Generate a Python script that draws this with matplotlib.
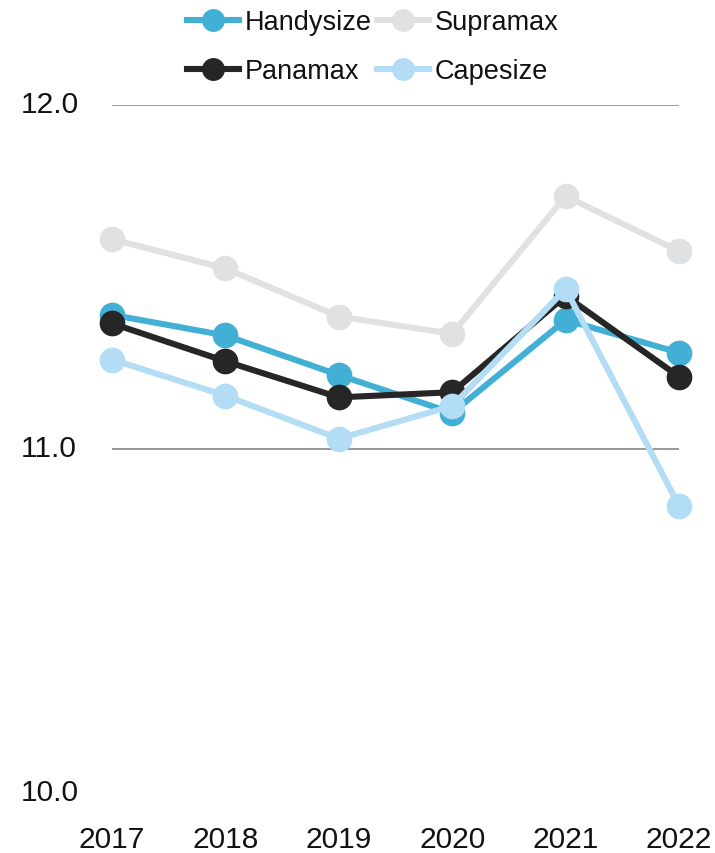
import matplotlib
matplotlib.use("Agg")
import matplotlib.pyplot as plt
from matplotlib.lines import Line2D
from matplotlib.transforms import ScaledTranslation

# data
years = [2017, 2018, 2019, 2020, 2021, 2022]
handysize = [11.39, 11.33, 11.215, 11.105, 11.375, 11.28]
supramax = [11.61, 11.525, 11.385, 11.335, 11.735, 11.575]
panamax = [11.365, 11.255, 11.15, 11.165, 11.445, 11.21]
capesize = [11.26, 11.155, 11.03, 11.125, 11.465, 10.835]

series_names = ['Handysize', 'Supramax', 'Panamax', 'Capesize']
series_vals = [handysize, supramax, panamax, capesize]
colors = ['#42b0d5', '#e0e1e3', '#262626', '#b3ddf5']

yticks = [10.0, 11.0, 12.0]

fig = plt.figure(figsize=(7.15, 8.54), dpi=100)
ax = fig.add_axes([0.1566, 0.0703, 0.7931, 0.8056])

for name, vals, c in zip(series_names, series_vals, colors):
    ax.plot(years, vals, color=c, lw=4.4, marker='o', markersize=18.5,
            markeredgewidth=0, clip_on=False, label=name, zorder=3)

ax.set_xlim(2017, 2022)
ax.set_ylim(10, 12)
ax.set_yticks(yticks)
ax.set_yticklabels(['%.1f' % v for v in yticks])
ax.set_xticks(years)
ax.set_xticklabels([str(y) for y in years])

ax.grid(axis='y', color='#7f7f7f', lw=1.1)
ax.yaxis.get_gridlines()[0].set_visible(False)
ax.set_axisbelow(True)
for s in ax.spines.values():
    s.set_visible(False)

ax.tick_params(axis='both', length=0, labelsize=21.5, labelcolor='#111111')
ax.tick_params(axis='y', pad=66)
ax.tick_params(axis='x', pad=23)
lift = ScaledTranslation(0, 4 / 100, fig.dpi_scale_trans)
for lab in ax.get_yticklabels():
    lab.set_horizontalalignment('left')
    lab.set_fontfamily(['Liberation Sans', 'DejaVu Sans'])
    lab.set_transform(lab.get_transform() + lift)
for lab in ax.get_xticklabels():
    lab.set_fontfamily(['Liberation Sans', 'DejaVu Sans'])

# legend laid out row by row: Handysize, Supramax / Panamax, Capesize
order = [0, 2, 1, 3]
handles = [Line2D([], [], color=colors[i], lw=4.4, marker='o', markersize=16.5,
                  markeredgewidth=0) for i in order]
labels = [series_names[i] for i in order]
leg = fig.legend(handles, labels, ncol=2, loc='center',
                 bbox_to_anchor=(0.5215, 0.944), frameon=False,
                 prop={'family': ['Liberation Sans', 'DejaVu Sans'], 'size': 19.5},
                 handlelength=1.9, handletextpad=0.22, columnspacing=0.2,
                 labelspacing=0.85, borderpad=0)
for t in leg.get_texts():
    t.set_color('#111111')

fig.savefig('out.png', dpi=100)
